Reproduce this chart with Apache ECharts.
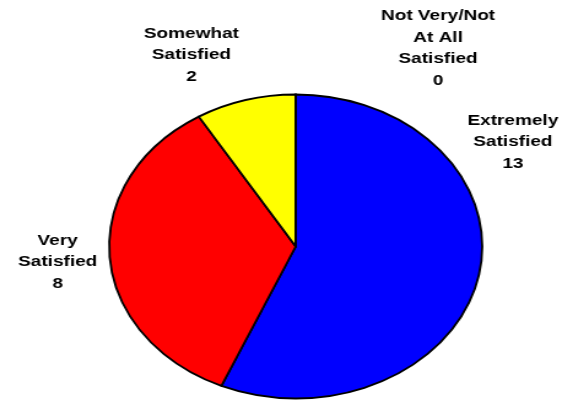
<!DOCTYPE html>
<html>
<head>
<meta charset="utf-8">
<script src="https://cdn.jsdelivr.net/npm/echarts@6/dist/echarts.min.js"></script>
<style>
html,body{margin:0;padding:0;background:#fff;overflow:hidden;}
#wrap{width:575px;height:400px;overflow:hidden;position:relative;}
#chart{width:469px;height:400px;transform:scaleX(1.227);transform-origin:0 0;position:absolute;left:0;top:0;}
</style>
</head>
<body>
<div id="wrap"><div id="chart"></div></div>
<script>
var categories = ['Extremely\nSatisfied', 'Very\nSatisfied', 'Somewhat\nSatisfied', 'Not Very/Not\nAt All\nSatisfied'];
var values = [13, 8, 2, 0];
var colors = ['#0000FF', '#FF0000', '#FFFF00', '#00FFFF'];

// label anchor positions (layout only, in chart pixels)
var labelAnchors = [[418, 142], [47, 262], [156, 55], [357, 48]];

var chart = echarts.init(document.getElementById('chart'), null, {renderer: 'canvas'});
chart.setOption({
  animation: false,
  backgroundColor: '#ffffff',
  series: [{
    type: 'pie',
    center: [241, 246.5],
    radius: 152,
    startAngle: 90,
    clockwise: true,
    avoidLabelOverlap: false,
    minShowLabelAngle: 0,
    itemStyle: {borderColor: '#000', borderWidth: 1.8},
    label: {
      show: true,
      position: 'outside',
      formatter: function (p) { return p.name + '\n' + p.value; },
      fontFamily: 'Liberation Sans, Arial, sans-serif',
      fontWeight: 'bold',
      fontSize: 15.5,
      lineHeight: 21.5,
      color: '#000',
      align: 'center'
    },
    labelLine: {show: false},
    emphasis: {disabled: true},
    labelLayout: function (p) {
      var a = labelAnchors[p.dataIndex];
      return {x: a[0], y: a[1], align: 'center', verticalAlign: 'middle'};
    },
    data: categories.map(function (c, i) {
      return {name: c, value: values[i], itemStyle: {color: colors[i]}};
    })
  }]
});
</script>
</body>
</html>
